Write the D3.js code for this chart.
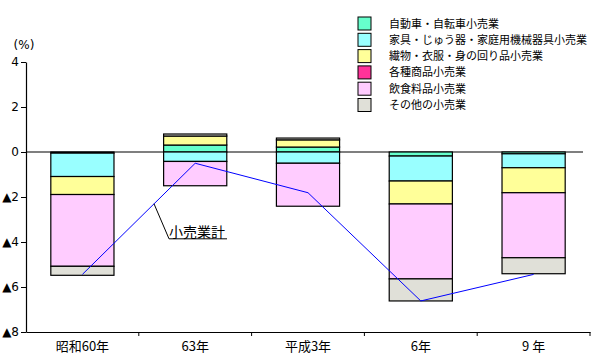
<!DOCTYPE html>
<html><head><meta charset="utf-8">
<script src="https://cdn.jsdelivr.net/npm/d3@7"></script>
<style>body{margin:0;background:#fff}svg{display:block}text{font-family:"Noto Sans CJK JP","DejaVu Sans",sans-serif}</style>
</head><body><svg id="c" width="600" height="360"></svg>
<script>
const categories = ["昭和60年","63年","平成3年","6年","9 年"];
const seriesNames = ["自動車・自転車小売業","家具・じゅう器・家庭用機械器具小売業","繊物・衣服・身の回り品小売業","各種商品小売業","飲食料品小売業","その他の小売業"];
const seriesColors = ["#66ffcc","#99ffff","#ffff99","#ff3399","#ffccff","#e0e0d8"];
const autoVals = [-0.05, 0.31, 0.22, -0.18, -0.08];
const furnitureVals = [-1.04, -0.42, -0.50, -1.11, -0.62];
const textileVals = [-0.80, 0.40, 0.32, -1.02, -1.11];
const variousVals = [0, 0, 0, 0, 0];
const foodVals = [-3.19, -1.08, -1.91, -3.33, -2.89];
const otherVals = [-0.40, 0.09, 0.08, -0.98, -0.71];
const totalVals = [-5.44, -0.50, -1.81, -6.62, -5.44];
const yTicks = [4, 2, 0, -2, -4, -6, -8];
const annotationLabel = "小売業計";

const seriesVals = [autoVals, furnitureVals, textileVals, variousVals, foodVals, otherVals];
const rows = categories.map((c, i) => {
  const r = {cat: c};
  seriesNames.forEach((s, j) => r[s] = seriesVals[j][i]);
  return r;
});

const svg = d3.select("#c");
const x = d3.scaleBand().domain(categories).range([26, 590]).paddingInner(0.44).paddingOuter(0.22);
const y = d3.scaleLinear().domain([-8, 4]).range([332, 62]);

// zero line
svg.append("line").attr("x1", 26).attr("x2", 583).attr("y1", y(0)).attr("y2", y(0))
  .attr("stroke", "#000").attr("stroke-width", 1.2);

const stacked = d3.stack().keys(seriesNames).offset(d3.stackOffsetDiverging)(rows);
stacked.forEach((layer, j) => {
  svg.append("g").selectAll("rect").data(layer.filter(d => Math.abs(d[1] - d[0]) > 1e-9)).join("rect")
    .attr("x", d => x(d.data.cat))
    .attr("width", x.bandwidth())
    .attr("y", d => y(Math.max(d[0], d[1])))
    .attr("height", d => Math.abs(y(d[0]) - y(d[1])))
    .attr("fill", seriesColors[j])
    .attr("stroke", "#000").attr("stroke-width", 1.2);
});

// y axis
const yAxis = d3.axisLeft(y).tickValues(yTicks).tickSize(5).tickSizeOuter(0)
  .tickFormat(d => d < 0 ? "▲" + Math.abs(d) : String(d));
const gy = svg.append("g").attr("transform", "translate(26,0)").call(yAxis);
gy.select(".domain").attr("stroke", "#000").attr("stroke-width", 1.2);
gy.selectAll(".tick line").attr("stroke", "#000");
gy.selectAll(".tick text").attr("font-size", 12).attr("fill", "#000").attr("x", -7)
  .style("font-family", '"DejaVu Sans",sans-serif');

svg.append("text").attr("x", 24).attr("y", 49).attr("text-anchor", "middle")
  .attr("font-size", 12).style("font-family", '"DejaVu Sans",sans-serif').text("(%)");

// x axis
const gx = svg.append("g").attr("transform", `translate(0,${y(-8)})`)
  .call(d3.axisBottom(x).tickSize(0).tickSizeOuter(0));
gx.select(".domain").attr("stroke", "#000").attr("stroke-width", 1.2);
gx.selectAll(".tick text").attr("font-size", 13).attr("fill", "#000").attr("dy", "1.2em")
  .style("font-family", '"Noto Sans CJK JP","DejaVu Sans",sans-serif');
gx.selectAll(".boundary").data(categories).join("line")
  .attr("x1", d => x(d) - x.step() * x.paddingOuter() + x.step())
  .attr("x2", d => x(d) - x.step() * x.paddingOuter() + x.step())
  .attr("y1", 0).attr("y2", 4).attr("stroke", "#000");

// total line
const cx = i => x(categories[i]) + x.bandwidth() / 2;
const line = d3.line().x((d, i) => cx(i)).y(d => y(d));
svg.append("path").datum(totalVals).attr("d", line)
  .attr("fill", "none").attr("stroke", "#0000ff").attr("stroke-width", 1);

// annotation: leader starts on the total line between the first two points
const t0 = 0.635;
const px = cx(0) + (cx(1) - cx(0)) * t0;
const py = y(totalVals[0] + (totalVals[1] - totalVals[0]) * t0);
svg.append("polyline")
  .attr("points", `${px},${py} ${px + 15},${py + 35} ${px + 73},${py + 35}`)
  .attr("fill", "none").attr("stroke", "#000").attr("stroke-width", 1);
svg.append("text").attr("x", px + 15).attr("y", py + 33).attr("font-size", 14).text(annotationLabel);

// legend
const lg = svg.append("g").attr("transform", "translate(358,17)");
seriesNames.forEach((s, i) => {
  const g = lg.append("g").attr("transform", `translate(0,${i * 16.3})`);
  g.append("rect").attr("width", 13).attr("height", 13).attr("fill", seriesColors[i])
    .attr("stroke", "#000").attr("stroke-width", 1);
  g.append("text").attr("x", 31).attr("y", 10.5).attr("font-size", 11).text(s);
});
</script></body></html>
